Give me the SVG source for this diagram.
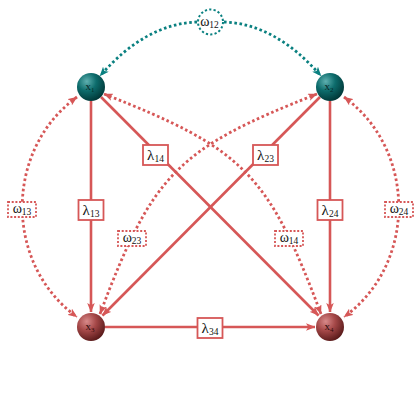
<svg xmlns="http://www.w3.org/2000/svg" width="420" height="420" viewBox="0 0 420 420">
<style>
.solid{fill:none;stroke:#d65757;stroke-width:2.6;marker-end:url(#ar)}
.dot{fill:none;stroke:#d65757;stroke-width:2.8;stroke-dasharray:2.6 2.6;marker-start:url(#ar);marker-end:url(#ar)}
.tdot{fill:none;stroke:#0a8080;stroke-width:2.8;stroke-dasharray:2.6 2.6;marker-end:url(#at)}
.lbox{fill:#fff;stroke:#d65757;stroke-width:1.8}
.wbox{fill:#fff;stroke:#d65757;stroke-width:1.8;stroke-dasharray:2 1.7}
.lt{font-family:"Liberation Serif","DejaVu Serif",serif;font-size:15px;fill:#111;text-anchor:middle}
.wt{font-family:"Liberation Serif","DejaVu Serif",serif;font-size:14px;fill:#111;text-anchor:middle}
.sub{font-size:9.5px}
.nt{font-family:"Liberation Serif","DejaVu Serif",serif;font-size:11px;text-anchor:middle}
</style>
<defs>
<marker id="ar" viewBox="0 0 10 8" markerWidth="9.5" markerHeight="7.6" refX="9.5" refY="4" orient="auto-start-reverse" markerUnits="userSpaceOnUse">
<path d="M0,0 L10,4 L0,8 L2.5,4 Z" fill="#d65757"/>
</marker>
<marker id="at" viewBox="0 0 10 8" markerWidth="9.5" markerHeight="7.6" refX="9.5" refY="4" orient="auto" markerUnits="userSpaceOnUse">
<path d="M0,0 L10,4 L0,8 L2.5,4 Z" fill="#0a8080"/>
</marker>
<radialGradient id="gt" cx="0.35" cy="0.3" r="0.75">
<stop offset="0" stop-color="#5fb0b0"/>
<stop offset="0.45" stop-color="#0d6c6c"/>
<stop offset="1" stop-color="#003535"/>
</radialGradient>
<radialGradient id="gr" cx="0.35" cy="0.3" r="0.75">
<stop offset="0" stop-color="#d88a8a"/>
<stop offset="0.45" stop-color="#a54848"/>
<stop offset="1" stop-color="#561818"/>
</radialGradient>
</defs>
<g id="connectors">
<path class="tdot" d="M197,22 Q145,24 100,76"/>
<path class="tdot" d="M224,22 Q276,24 321,76"/>
<path class="dot" d="M77,97 C4,150 4,264 77,317"/>
<path class="dot" d="M344,97 C417,150 417,264 344,317"/>
<path class="dot" d="M104,94 C243.7,148.8 268.2,173.5 321,314"/>
<path class="dot" d="M317,94 C177.3,148.8 152.8,173.5 100,314"/>
<path class="solid" d="M91,101 L91,312"/>
<path class="solid" d="M330,101 L330,312"/>
<path class="solid" d="M105,327 L315,327"/>
<path class="solid" d="M101,97 L318.5,315.5"/>
<path class="solid" d="M320,97 L102.5,315.5"/>
</g>
<g id="w12">
<circle cx="210.5" cy="22" r="12.5" fill="#fff" stroke="#0a8080" stroke-width="2" stroke-dasharray="2.2 2.2"/>
<text class="wt" x="209.5" y="26">ω<tspan class="sub" dy="2">12</tspan></text>
</g>
<g id="l13"><rect class="lbox" x="78.5" y="200" width="25" height="20"/><text class="lt" x="91" y="215">λ<tspan class="sub" dy="2">13</tspan></text></g>
<g id="l24"><rect class="lbox" x="317.5" y="200" width="25" height="20"/><text class="lt" x="330" y="215">λ<tspan class="sub" dy="2">24</tspan></text></g>
<g id="l14"><rect class="lbox" x="143" y="145" width="25" height="20"/><text class="lt" x="155.5" y="160">λ<tspan class="sub" dy="2">14</tspan></text></g>
<g id="l23"><rect class="lbox" x="253" y="145" width="25" height="20"/><text class="lt" x="265.5" y="160">λ<tspan class="sub" dy="2">23</tspan></text></g>
<g id="l34"><rect class="lbox" x="197.5" y="318" width="25" height="20"/><text class="lt" x="210" y="333">λ<tspan class="sub" dy="2">34</tspan></text></g>
<g id="w13"><rect class="wbox" x="8" y="202" width="28" height="15"/><text class="wt" x="22" y="213">ω<tspan class="sub" dy="2">13</tspan></text></g>
<g id="w24"><rect class="wbox" x="385" y="202" width="28" height="15"/><text class="wt" x="399" y="213">ω<tspan class="sub" dy="2">24</tspan></text></g>
<g id="w23"><rect class="wbox" x="118" y="231" width="28" height="15"/><text class="wt" x="132" y="242">ω<tspan class="sub" dy="2">23</tspan></text></g>
<g id="w14"><rect class="wbox" x="275" y="231" width="28" height="15"/><text class="wt" x="289" y="242">ω<tspan class="sub" dy="2">14</tspan></text></g>
<g id="x1"><circle cx="91" cy="87" r="14" fill="url(#gt)"/><text class="nt" x="90" y="90" fill="#082626">x<tspan font-size="7" dy="2">1</tspan></text></g>
<g id="x2"><circle cx="330" cy="87" r="14" fill="url(#gt)"/><text class="nt" x="329" y="90" fill="#082626">x<tspan font-size="7" dy="2">2</tspan></text></g>
<g id="x3"><circle cx="91" cy="327" r="14" fill="url(#gr)"/><text class="nt" x="90" y="330" fill="#2e0c0c">x<tspan font-size="7" dy="2">3</tspan></text></g>
<g id="x4"><circle cx="330" cy="327" r="14" fill="url(#gr)"/><text class="nt" x="329" y="330" fill="#2e0c0c">x<tspan font-size="7" dy="2">4</tspan></text></g>
</svg>
